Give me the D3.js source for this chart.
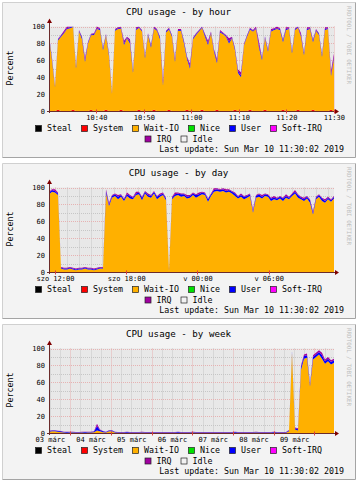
<!DOCTYPE html>
<html>
<head>
<meta charset="utf-8">
<script src="https://cdn.jsdelivr.net/npm/d3@7"></script>
<style>
  body { margin: 0; background: #fff; }
  svg text { font-family: "DejaVu Sans Mono", monospace; fill: #000; }
</style>
</head>
<body>
<svg id="chart" width="359" height="480"></svg>
<script>
// ---- data (one sample every ~3 px) ----
const hourSystem = [0,0,0,1.5,0,0,0,0,1.5,0, 0,0,0,0,1.5,0,0,0,0,1.5, 0,0,0,0,1.5,0,0,0,0,0, 1.5,0,0,0,0,1.5,0,0,0,0, 1.5,0,0,0,
  0,0,1.5,0,0,0,0,1.5,0,0, 0,0,1.5,0,0,0,0,0,1.5,0, 0,0,0,1.5,0,0,0,0,1.5,0, 0,0,0,0,1.5,0,0,0,0,1.5, 0,0,0,0,1.5,0,0,0,0,0, 1.5,0];
const hourWait = [88,60,28,82,88,92,97,98,98,50, 94,85,58,80,88,90,97,96,72,88, 65,20,95,97,96,78,86,80,45,96, 97,94,62,90,75,96,95,85,30,93, 95,88,58,95,
  95,80,60,50,85,90,94,97,88,78, 92,70,55,93,91,88,80,86,70,45, 40,78,88,95,94,97,75,60,85,70, 94,96,97,96,80,96,97,68,96,97, 88,66,96,97,80,95,90,64,96,97, 40,62];
const hourUser = [1,2,1,1,1,1,1,1,1,2, 1,2,2,1,1,1,1,1,2,1, 2,1,1,1,1,2,1,2,2,1, 1,1,2,1,2,1,1,2,2,1, 1,1,2,1,
  1,2,2,2,1,1,1,1,2,2, 1,2,2,1,1,1,2,1,2,2, 2,1,1,1,1,1,2,2,1,2, 1,1,1,1,2,1,1,2,1,1, 1,2,1,1,2,1,1,2,1,1, 2,2];
const hourIrq = [1,1,1,1,1,2,2,2,2,1, 1,1,3,1,1,1,2,1,1,1, 1,1,1,1,1,3,1,3,1,2, 1,1,1,1,1,2,1,1,4,1, 1,1,2,1,
  1,1,1,4,1,1,1,2,1,3, 1,1,3,2,1,1,4,1,1,2, 4,1,1,1,1,2,5,1,1,1, 2,1,2,1,1,2,1,1,1,1, 3,1,2,1,1,1,1,1,2,1, 4,4];

const dayWait = [92,95,94,91, 4,3,3,4,3,2,3,3,4,3,3,2,3,4,4,
  93,78,88,90,86,89,84,90,87,86, 91,92,85,93,89,88,93,86,89,91, 85,1,86,90,91,89,90,87,88,91, 88,90,92,91,83,90,95,96,95,96,
  94,95,93,90,87,89,86,88,90,70, 88,89,87,90,89,84,86,85,87,84, 88,86,90,93,88,86,84,87,82,68, 86,89,84,82,86,83,87];
const dayUser = [2,2,2,2, 1,1,1,1,1,1,1,1,1,1,1,1,1,1,1,
  3,2,2,2,3,2,2,2,3,2, 2,2,3,2,2,2,2,3,2,2, 2,1,2,2,2,3,2,2,2,2, 3,2,2,2,3,2,2,2,2,2,
  2,2,2,3,2,2,3,2,2,2, 2,3,2,2,2,3,2,2,2,3, 2,2,2,2,3,2,2,2,3,2, 2,2,3,2,2,2,2];
const dayIrq = [1,1,2,1, 1,1,1,1,1,1,1,1,1,1,1,1,1,1,1,
  2,2,1,1,2,1,1,2,1,1, 2,1,1,1,2,1,1,1,2,1, 1,1,1,2,1,1,1,2,1,1, 1,2,1,1,1,1,2,1,1,1,
  2,1,1,1,1,2,1,1,1,2, 1,1,2,1,1,1,2,1,1,1, 2,1,1,2,1,1,2,1,1,2, 1,1,1,2,1,1,1];

const weekWait = [1.5,2,2,1.5,1, 0.5,0.4,0.5,0.5,0.3,0.4,0.5,0.4,0.5,0.6,1, 3,2,1,0.5,2,2,0.5,
  0.3,0.2,0.3,0.4,0.3,0.2,0.3,0.3,0.5,0.3, 0.2,0.3,0.3,0.2,0.4,0.3,0.3,0.2,0.3,0.3, 0.4,0.3,0.2,0.3,0.3,0.5,0.3,0.2,0.3,0.3,
  0.3,0.2,0.4,0.3,0.3,0.2,0.3,0.3,0.3,0.4, 0.3,0.2,0.3,0.3,0.2,0.3,0.5,0.3,0.3,0.2, 0.3,0.3,0.4,0.3,0.2,0.3,0.3,
  2,95,4,3,75,88,89,55,87,90,93,88,82,85,81,83];
const weekUser = [1,1,1,1,1, 0.7,0.7,0.6,0.7,0.7,0.6,0.7,0.7,0.7,0.6,0.7, 5,1.5,1,0.7,1,1,0.7,
  0.7,0.6,0.7,0.7,0.7,0.6,0.7,0.7,0.7,0.7, 0.6,0.7,0.7,0.7,0.6,0.7,0.7,0.7,0.7,0.6, 0.7,0.7,0.7,0.6,0.7,0.7,0.7,0.7,0.6,0.7,
  0.7,0.7,0.6,0.7,0.7,0.7,0.7,0.6,0.7,0.7, 0.7,0.6,0.7,0.7,0.7,0.7,0.6,0.7,0.7,0.7, 0.6,0.7,0.7,0.7,0.7,0.6,0.7,
  1,2,1.5,1.5,3,3,3,2,3,3,3,4,3,3,3,3];
const weekIrq = [0.3,0.3,0.3,0.3,0.3, 0.3,0.3,0.3,0.3,0.3,0.3,0.3,0.3,0.3,0.3,0.3, 3,0.5,0.3,0.3,0.3,0.3,0.3,
  0.3,0.3,0.3,0.3,0.3,0.3,0.3,0.3,0.3,0.3, 0.3,0.3,0.3,0.3,0.3,0.3,0.3,0.3,0.3,0.3, 0.3,0.3,0.3,0.3,0.3,0.3,0.3,0.3,0.3,0.3,
  0.3,0.3,0.3,0.3,0.3,0.3,0.3,0.3,0.3,0.3, 0.3,0.3,0.3,0.3,0.3,0.3,0.3,0.3,0.3,0.3, 0.3,0.3,0.3,0.3,0.3,0.3,0.3,
  0.5,1,1,1,2,2,2,1,2,2,2,3,2,2,2,2];

const hourTicks = ["2019-03-10T10:40","2019-03-10T10:50","2019-03-10T11:00","2019-03-10T11:10","2019-03-10T11:20","2019-03-10T11:30"];
const dayTicks = ["2019-03-09T12:00","2019-03-09T18:00","2019-03-10T00:00","2019-03-10T06:00"];
const weekTicks = ["2019-03-03T12:00","2019-03-04T12:00","2019-03-05T12:00","2019-03-06T12:00","2019-03-07T12:00","2019-03-08T12:00","2019-03-09T12:00"];
const yTicks = [0, 20, 40, 60, 80, 100];

const legendRows = [["Steal","System","Wait-IO","Nice","User","Soft-IRQ"], ["IRQ","Idle"]];
const colors = {
  Steal: "#000000", System: "#ff0000", "Wait-IO": "#ffb000", Nice: "#00e000",
  User: "#0000ff", "Soft-IRQ": "#ff00ff", IRQ: "#a000a0", Idle: "#f2f2f2"
};
const lastUpdate = "Last update: Sun Mar 10 11:30:02 2019";

const hu = d3.timeFormatLocale({
  dateTime: "%Y. %B %-e., %A %X", date: "%Y. %m. %d.", time: "%H:%M:%S",
  periods: ["de.", "du."],
  days: ["vasárnap","hétfő","kedd","szerda","csütörtök","péntek","szombat"],
  shortDays: ["v","h","k","sze","cs","p","szo"],
  months: ["január","február","március","április","május","június","július","augusztus","szeptember","október","november","december"],
  shortMonths: ["jan","febr","márc","ápr","máj","jún","júl","aug","szept","okt","nov","dec"]
});

const panels = [
  { title: "CPU usage - by hour", top: 2, start: "2019-03-10T10:30:02", end: "2019-03-10T11:30:02",
    ticks: hourTicks, fmt: "%H:%M", minor: d3.timeMinute.every(5), major: d3.timeMinute.every(10),
    system: hourSystem, wait: hourWait, user: hourUser, irq: hourIrq },
  { title: "CPU usage - by day", top: 163, start: "2019-03-09T11:30:02", end: "2019-03-10T11:30:02",
    ticks: dayTicks, fmt: "%a %H:%M", minor: d3.timeHour.every(1), major: d3.timeHour.every(6),
    wait: dayWait, user: dayUser, irq: dayIrq },
  { title: "CPU usage - by week", top: 324, start: "2019-03-03T11:30:02", end: "2019-03-10T11:30:02",
    ticks: weekTicks, fmt: "%d %b", minor: d3.timeHour.every(6), major: d3.timeDay.every(1),
    wait: weekWait, user: weekUser, irq: weekIrq }
];

const svg = d3.select("#chart");
const X0 = 49, X1 = 334, Y0 = 109, Y1 = 24.5;

panels.forEach((p, pi) => drawPanel(p, pi));

function drawPanel(p, pi) {
  const g = svg.append("g").attr("transform", `translate(0,${p.top})`);

  // frame
  g.append("rect").attr("x", 2.5).attr("y", 0.5).attr("width", 353).attr("height", 155).attr("fill", "#f3f3f3");
  g.append("path").attr("d", "M2.5,155.5V0.5H355.5").attr("fill", "none").attr("stroke", "#d0d0d0");
  g.append("path").attr("d", "M2.5,155.5H355.5V0.5").attr("fill", "none").attr("stroke", "#a4a4a4");

  const start = new Date(p.start), end = new Date(p.end);
  const x = d3.scaleTime().domain([start, end]).range([X0, X1]);
  const y = d3.scaleLinear().domain([0, 100]).range([Y0, Y1]).clamp(true);

  const n = p.wait.length;
  const step = (end - start) / (n - 1);
  const rows = p.wait.map((w, i) => ({
    t: new Date(+start + i * step),
    system: p.system ? p.system[i] : 0,
    wait: w, user: p.user[i], irq: p.irq[i]
  }));
  const layerColor = { system: colors.System, wait: colors["Wait-IO"], user: colors.User, irq: colors.IRQ };
  const series = d3.stack().keys(["system", "wait", "user", "irq"])(rows);

  // idle canvas
  g.append("rect").attr("x", X0).attr("y", y(100)).attr("width", X1 - X0).attr("height", y(0) - y(100))
    .attr("fill", "#e8e8e8");

  // grid
  const grid = g.append("g");
  const majorT = x.ticks(p.major).map(d => +d);
  x.ticks(p.minor).filter(d => !majorT.includes(+d)).forEach(d => {
    grid.append("line").attr("x1", Math.round(x(d)) + 0.5).attr("x2", Math.round(x(d)) + 0.5)
      .attr("y1", y(100)).attr("y2", y(0)).attr("stroke", "#c6c6c6").attr("stroke-dasharray", "1,1");
  });
  majorT.forEach(d => {
    grid.append("line").attr("x1", Math.round(x(d)) + 0.5).attr("x2", Math.round(x(d)) + 0.5)
      .attr("y1", y(100)).attr("y2", y(0)).attr("stroke", "#e6b2b2").attr("stroke-dasharray", "1,1");
  });
  [10, 30, 50, 70, 90].forEach(v => {
    grid.append("line").attr("x1", X0).attr("x2", X1).attr("y1", Math.round(y(v)) + 0.5).attr("y2", Math.round(y(v)) + 0.5)
      .attr("stroke", "#c6c6c6").attr("stroke-dasharray", "1,1");
  });
  yTicks.filter(v => v > 0).forEach(v => {
    grid.append("line").attr("x1", X0).attr("x2", X1).attr("y1", Math.round(y(v)) + 0.5).attr("y2", Math.round(y(v)) + 0.5)
      .attr("stroke", "#e6b2b2").attr("stroke-dasharray", "1,1");
  });

  // stacked areas
  const clipId = "clip" + pi;
  g.append("clipPath").attr("id", clipId).append("rect")
    .attr("x", X0).attr("y", y(100)).attr("width", X1 - X0).attr("height", y(0) - y(100));
  const area = d3.area().x(d => x(d.data.t)).y0(d => y(d[0])).y1(d => y(d[1]));
  g.append("g").attr("clip-path", `url(#${clipId})`)
    .selectAll("path").data(series).join("path")
    .attr("fill", d => layerColor[d.key]).attr("d", area);

  // axes lines, ticks, arrows
  g.append("line").attr("x1", X0 - 2).attr("x2", X1 + 2).attr("y1", Y0 + 0.5).attr("y2", Y0 + 0.5).attr("stroke", "#6b2b2b");
  g.append("line").attr("x1", X0 + 0.5).attr("x2", X0 + 0.5).attr("y1", Y0 + 2).attr("y2", 20).attr("stroke", "#6b2b2b");
  majorT.forEach(d => {
    g.append("line").attr("x1", Math.round(x(d)) + 0.5).attr("x2", Math.round(x(d)) + 0.5)
      .attr("y1", Y0 - 1.5).attr("y2", Y0 + 2.5).attr("stroke", "#d84040");
  });
  g.append("path").attr("d", `M${X1 + 5},${Y0 + 0.5}L${X1 + 1},${Y0 - 2}L${X1 + 1},${Y0 + 3}Z`).attr("fill", "#7f0000");
  g.append("path").attr("d", `M${X0 + 0.5},16.5L${X0 - 2},21L${X0 + 3},21Z`).attr("fill", "#7f0000");

  // axis labels
  const xa = g.append("g").attr("transform", `translate(0,${Y0})`)
    .call(d3.axisBottom(x).tickValues(p.ticks.map(s => new Date(s))).tickFormat(hu.format(p.fmt)).tickSize(0).tickPadding(4.5));
  xa.select(".domain").remove();
  xa.attr("font-size", 7).attr("font-family", null);

  const ya = g.append("g").attr("transform", `translate(${X0},0)`)
    .call(d3.axisLeft(y).tickValues(yTicks).tickSize(0).tickPadding(4));
  ya.select(".domain").remove();
  ya.attr("font-size", 7).attr("font-family", null);

  // title, y label, watermark
  g.append("text").attr("x", 178.5).attr("y", 13.3).attr("text-anchor", "middle")
    .attr("font-size", 9.2).text(p.title);
  g.append("text").attr("transform", "translate(10,66) rotate(-90)").attr("text-anchor", "middle")
    .attr("dy", "0.35em").attr("font-size", 8.3).text("Percent");
  g.append("text").attr("transform", "translate(349,4) rotate(90)").attr("dy", "0.35em")
    .attr("font-size", 5.9).style("fill", "#bdbdbd").text("RRDTOOL / TOBI OETIKER");

  // legend
  const rowY = [126.5, 137];
  legendRows.forEach((names, ri) => {
    const row = g.append("g");
    let cx = 0;
    names.forEach(name => {
      row.append("rect").attr("x", cx + 0.5).attr("y", rowY[ri] - 3).attr("width", 6).attr("height", 6)
        .attr("fill", colors[name]).attr("stroke", "#222").attr("stroke-width", 0.7);
      const t = row.append("text").attr("x", cx + 12).attr("y", rowY[ri] + 2.9).attr("font-size", 8.3).text(name);
      cx += 12 + t.node().getComputedTextLength() + 9;
    });
    const w = cx - 9;
    row.attr("transform", `translate(${178.5 - w / 2},0)`);
  });
  g.append("text").attr("x", 344).attr("y", 150.3).attr("text-anchor", "end").attr("font-size", 8.3).text(lastUpdate);
}
</script>
</body>
</html>
